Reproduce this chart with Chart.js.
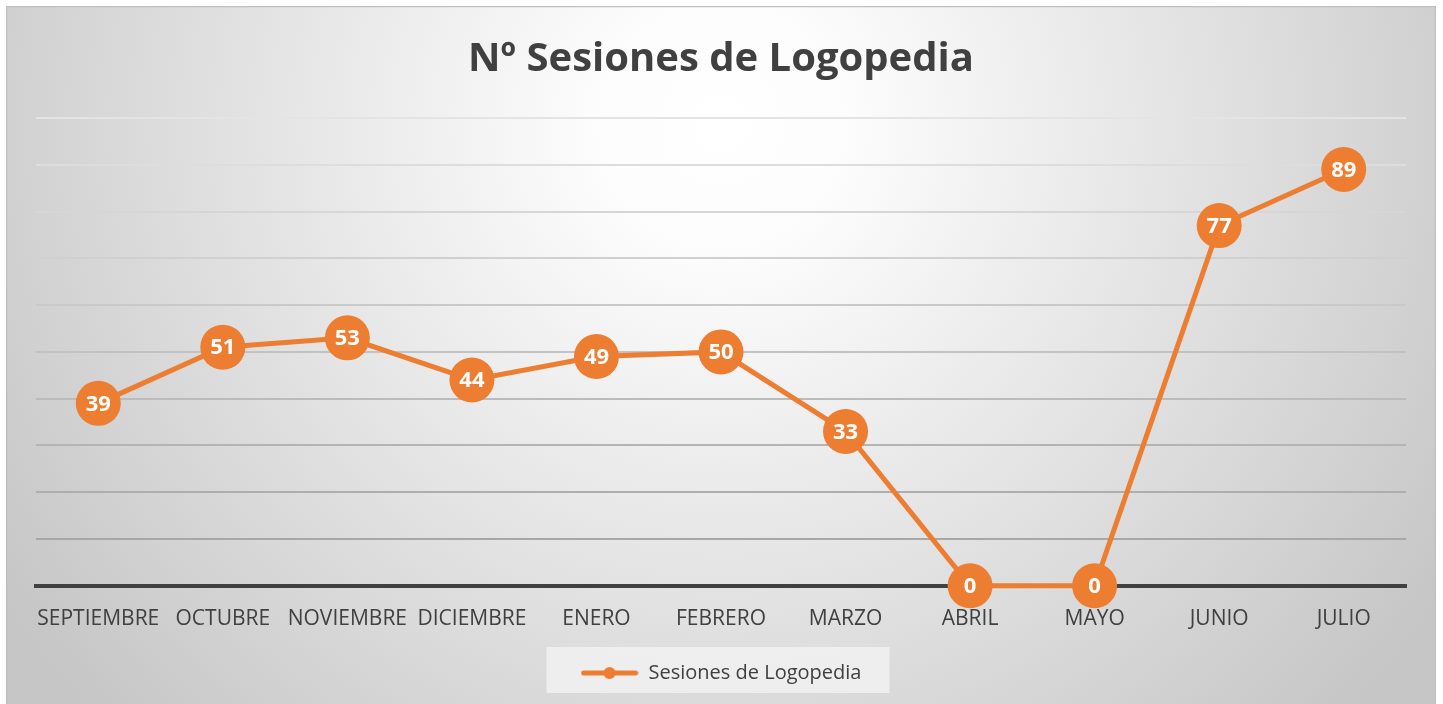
<!DOCTYPE html>
<html>
<head>
<meta charset="utf-8">
<script src="https://cdn.jsdelivr.net/npm/chart.js@4.4.0/dist/chart.umd.min.js"></script>
<style>
  body { margin: 0; background: #ffffff; }
  #wrap { position: absolute; left: 6px; top: 6px; width: 1430px; height: 698px; }
</style>
</head>
<body>
<div id="wrap"><canvas id="sesionesChart"></canvas></div>
<script>
const meses = ['SEPTIEMBRE', 'OCTUBRE', 'NOVIEMBRE', 'DICIEMBRE', 'ENERO', 'FEBRERO', 'MARZO', 'ABRIL', 'MAYO', 'JUNIO', 'JULIO'];
const sesiones = [39, 51, 53, 44, 49, 50, 33, 0, 0, 77, 89];
const tituloGrafico = 'Nº Sesiones de Logopedia';
const nombreSerie = 'Sesiones de Logopedia';

const naranja = '#ED7D31';

// icono de la leyenda: linea con punto
const icono = document.createElement('canvas');
icono.width = 58;
icono.height = 14;
(function () {
    const c = icono.getContext('2d');
    c.strokeStyle = naranja;
    c.lineWidth = 5;
    c.lineCap = 'round';
    c.beginPath();
    c.moveTo(3, 7);
    c.lineTo(55, 7);
    c.stroke();
    c.fillStyle = naranja;
    c.beginPath();
    c.arc(29, 7, 6, 0, Math.PI * 2);
    c.fill();
})();

const fondo = {
    id: 'fondo',
    beforeDraw(chart) {
        const ctx = chart.ctx;
        const w = chart.width, h = chart.height;
        ctx.save();
        const g = ctx.createRadialGradient(w * 0.5, h * 0.17, 0, w * 0.5, h * 0.17, w * 0.6);
        g.addColorStop(0, '#ffffff');
        g.addColorStop(0.15, '#fcfcfc');
        g.addColorStop(1, '#c6c6c6');
        ctx.fillStyle = g;
        ctx.fillRect(0, 0, w, h);
        ctx.strokeStyle = '#bfbfbf';
        ctx.lineWidth = 1.5;
        ctx.strokeRect(0.5, 0.5, w - 1, h + 5);

        const lg = chart.legend;
        if (lg && lg.legendHitBoxes && lg.legendHitBoxes.length) {
            const b = lg.legendHitBoxes[0];
            ctx.fillStyle = 'rgba(242,242,242,0.8)';
            ctx.fillRect(b.left - 34, b.top - 16, b.width + 62, b.height + 26);
        }
        ctx.restore();
    }
};

const etiquetas = {
    id: 'etiquetas',
    afterDatasetsDraw(chart) {
        const ctx = chart.ctx;
        const meta = chart.getDatasetMeta(0);
        ctx.save();
        ctx.fillStyle = '#ffffff';
        ctx.font = 'bold 22px "Open Sans"';
        ctx.textAlign = 'center';
        ctx.textBaseline = 'middle';
        meta.data.forEach((p, i) => {
            ctx.fillText(String(sesiones[i]), p.x, p.y + 1);
        });
        ctx.restore();
    }
};

const ctx = document.getElementById('sesionesChart').getContext('2d');
const sesionesChart = new Chart(ctx, {
    type: 'line',
    data: {
        labels: meses,
        datasets: [
            {
                label: nombreSerie,
                data: sesiones,
                borderColor: naranja,
                backgroundColor: naranja,
                borderWidth: 5,
                pointRadius: 22.5,
                pointBackgroundColor: naranja,
                pointBorderWidth: 0,
                pointStyle: 'circle',
                fill: false,
                tension: 0,
                clip: false
            }
        ]
    },
    options: {
        responsive: true,
        maintainAspectRatio: false,
        animation: false,
        layout: {
            padding: { left: 30, right: 30, top: 0, bottom: 11 }
        },
        plugins: {
            title: {
                display: true,
                text: tituloGrafico,
                color: '#404040',
                font: { family: 'Open Sans', size: 40, weight: 'bold' },
                padding: { top: 30, bottom: 34 }
            },
            legend: {
                position: 'bottom',
                labels: {
                    usePointStyle: true,
                    pointStyle: icono,
                    pointStyleWidth: 58,
                    color: '#404040',
                    font: { family: 'Open Sans', size: 20 },
                    padding: 18,
                    generateLabels: function (chart) {
                        return [{
                            text: nombreSerie,
                            pointStyle: icono,
                            fillStyle: naranja,
                            strokeStyle: naranja,
                            lineWidth: 0,
                            fontColor: '#404040',
                            datasetIndex: 0
                        }];
                    }
                }
            },
            tooltip: { enabled: false }
        },
        scales: {
            x: {
                offset: true,
                grid: { display: false },
                border: { display: true, color: '#404040', width: 4 },
                ticks: {
                    color: '#404040',
                    font: { family: 'Open Sans', size: 21 },
                    padding: 13,
                    maxRotation: 0,
                    autoSkip: false
                }
            },
            y: {
                min: 0,
                max: 100,
                ticks: { display: false, stepSize: 10 },
                border: { display: false },
                grid: {
                    drawTicks: false,
                    lineWidth: 2,
                    color: function (c) {
                        const v = c.tick.value;
                        if (v === 0) return 'rgba(0,0,0,0)';
                        const t = v / 100;
                        const g = Math.round(160 + t * 68);
                        return 'rgb(' + g + ',' + g + ',' + g + ')';
                    }
                }
            }
        }
    },
    plugins: [fondo, etiquetas]
});
</script>
</body>
</html>
